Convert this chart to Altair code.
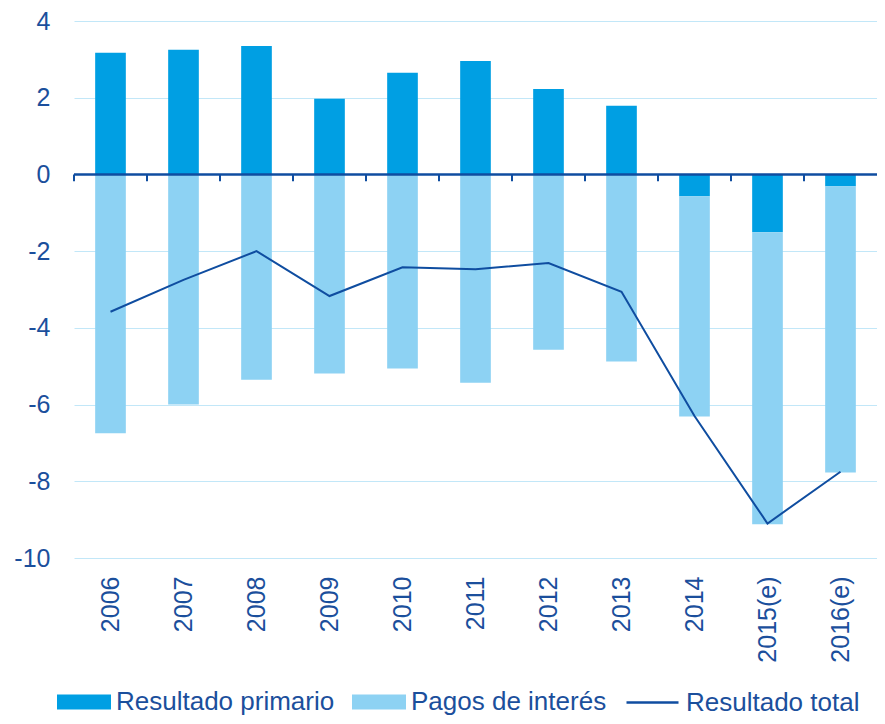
import altair as alt
import pandas as pd

years = ["2006", "2007", "2008", "2009", "2010", "2011", "2012", "2013", "2014", "2015(e)", "2016(e)"]
primario = [3.17, 3.25, 3.35, 1.97, 2.65, 2.96, 2.23, 1.79, -0.57, -1.51, -0.31]
intereses = [-6.75, -6.00, -5.35, -5.19, -5.06, -5.43, -4.57, -4.88, -5.74, -7.61, -7.46]
total = [-3.58, -2.75, -2.00, -3.17, -2.42, -2.47, -2.31, -3.06, -6.30, -9.10, -7.75]
y_ticks = [-10, -8, -6, -4, -2, 0, 2, 4]

S1 = "Resultado primario"
S2 = "Pagos de interés"
S3 = "Resultado total"

DARK = "#009FE3"
LIGHT = "#8DD2F3"
NAVY = "#0F4DA0"
TEXT = "#1B4F9C"
GRID = "#C2E7F8"
FONT = "Liberation Sans"

rows = []
for y, p, i in zip(years, primario, intereses):
    rows.append({"year": y, "serie": S1, "value": p, "ord": 0})
    rows.append({"year": y, "serie": S2, "value": i, "ord": 1})
bars_df = pd.DataFrame(rows)
line_df = pd.DataFrame({"year": years, "value": total, "serie": [S3] * len(years)})
ticks_df = pd.DataFrame({"year": years})

x_enc = alt.X(
    "year:N",
    sort=years,
    scale=alt.Scale(paddingInner=0, paddingOuter=0),
    axis=alt.Axis(
        title=None, labelAngle=270, labelAlign="right", labelBaseline="middle",
        labelFontSize=25, labelColor=TEXT, labelFont=FONT, labelPadding=18,
        domain=False, ticks=False, grid=False,
    ),
)
y_scale = alt.Scale(domain=[-10, 4], nice=False, zero=False)

bars = alt.Chart(bars_df).mark_bar(width=alt.RelativeBandSize(0.42)).encode(
    x=x_enc,
    y=alt.Y(
        "value:Q",
        stack="zero",
        scale=y_scale,
        axis=alt.Axis(
            title=None, values=y_ticks, labelFontSize=25, labelColor=TEXT, labelFont=FONT,
            labelExpr="toString(datum.value)",
            labelPadding=24, domain=False, ticks=False, grid=True, gridColor=GRID, gridWidth=1,
        ),
    ),
    color=alt.Color(
        "serie:N",
        scale=alt.Scale(domain=[S1, S2], range=[DARK, LIGHT]),
        legend=alt.Legend(
            title=None, orient="none", legendX=-17, legendY=654, direction="horizontal",
            symbolType="M-1,-0.28H1V0.28H-1Z", symbolSize=2916, symbolStrokeWidth=0,
            labelFontSize=26, labelColor=TEXT, labelFont=FONT, labelOffset=5, labelLimit=0,
            columnPadding=17, padding=0,
        ),
    ),
    order=alt.Order("ord:Q"),
)

zero_line = alt.Chart(pd.DataFrame({"v": [0]})).mark_rule(color=NAVY, strokeWidth=2.5).encode(
    y=alt.Y("v:Q", scale=y_scale)
)

ticks = alt.Chart(ticks_df).mark_rule(color=NAVY, strokeWidth=2).encode(
    x=alt.X("year:N", sort=years, bandPosition=0),
    y=alt.datum(0),
    y2=alt.datum(-0.18),
)

line = alt.Chart(line_df).mark_line(strokeWidth=2).encode(
    x=alt.X("year:N", sort=years),
    y=alt.Y("value:Q", scale=y_scale),
    stroke=alt.Stroke(
        "serie:N",
        scale=alt.Scale(domain=[S3], range=[NAVY]),
        legend=alt.Legend(
            title=None, orient="none", legendX=551, legendY=654, direction="horizontal",
            symbolType="stroke", symbolSize=2704, symbolStrokeWidth=2.5,
            labelFontSize=26, labelColor=TEXT, labelFont=FONT, labelOffset=6, labelLimit=0,
            padding=0,
        ),
    ),
)

chart = alt.layer(bars, zero_line, ticks, line).resolve_scale(
    color="independent", stroke="independent"
).properties(
    width=803,
    height=537,
    autosize=alt.AutoSizeParams(type="none"),
    padding={"left": 66, "top": 13, "right": 0, "bottom": 158},
    background="white",
).configure_view(stroke=None)

chart.save("out.html", embed_options={"renderer": "svg", "actions": False})
